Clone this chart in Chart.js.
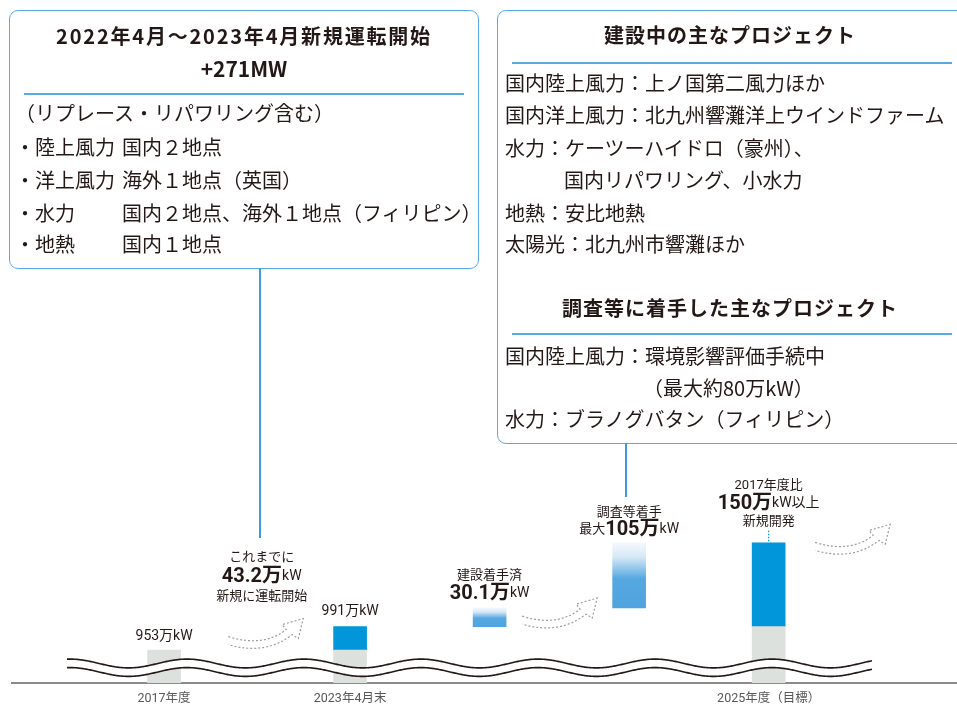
<!DOCTYPE html>
<html lang="ja">
<head>
<meta charset="utf-8">
<script src="https://cdn.jsdelivr.net/npm/chart.js@4"></script>
<style>
  html, body { margin: 0; padding: 0; background: #fff; }
  body { width: 957px; height: 706px; position: relative; overflow: hidden;
         font-family: 'Noto Sans CJK JP', 'Noto Sans', sans-serif; color: #231815; }
  #chart { position: absolute; left: 0; top: 0; }
  .box { position: absolute; border: 1.5px solid #5aaae2; border-radius: 9px; background: #fff; box-sizing: border-box; }
  .ttl { position: absolute; left: 0; right: 0; text-align: center; font-weight: bold; font-size: 20px; line-height: 32px; }
  .rule { position: absolute; height: 1.5px; background: #5aaae2; }
  .ln { position: absolute; font-size: 20px; line-height: 32px; white-space: nowrap; }
  .lead { position: absolute; width: 2px; background: #3d9be0; }
</style>
</head>
<body>
<canvas id="chart" width="957" height="706"></canvas>

<div class="box" style="left:9px; top:10px; width:470px; height:259px;">
  <div class="ttl" style="top:9px; letter-spacing:1.8px;">2022年4月～2023年4月新規運転開始</div>
  <div class="ttl" style="top:41px; font-size:21px;">+271MW</div>
  <div class="rule" style="left:14px; width:440px; top:82px;"></div>
  <div class="ln" style="left:5px; top:86px;">（リプレース・リパワリング含む）</div>
  <div class="ln" style="left:5px; top:120px;">・陸上風力</div><div class="ln" style="left:112px; top:120px;">国内２地点</div>
  <div class="ln" style="left:5px; top:153px;">・洋上風力</div><div class="ln" style="left:112px; top:153px;">海外１地点（英国）</div>
  <div class="ln" style="left:5px; top:186px;">・水力</div><div class="ln" style="left:112px; top:186px;">国内２地点、海外１地点（フィリピン）</div>
  <div class="ln" style="left:5px; top:217px;">・地熱</div><div class="ln" style="left:112px; top:217px;">国内１地点</div>
</div>
<div class="lead" style="left:259px; top:268px; height:270px;"></div>

<div class="box" style="left:497px; top:10px; width:480px; height:434px;">
  <div class="ttl" style="top:8px; right:14px; letter-spacing:1px;">建設中の主なプロジェクト</div>
  <div class="rule" style="left:14px; width:440px; top:51px;"></div>
  <div class="ln" style="left:7px; top:56px;">国内陸上風力：上ノ国第二風力ほか</div>
  <div class="ln" style="left:7px; top:88px;">国内洋上風力：北九州響灘洋上ウインドファーム</div>
  <div class="ln" style="left:7px; top:121px;">水力：ケーツーハイドロ（豪州）、</div>
  <div class="ln" style="left:66px; top:153px;">国内リパワリング、小水力</div>
  <div class="ln" style="left:7px; top:186px;">地熱：安比地熱</div>
  <div class="ln" style="left:7px; top:217px;">太陽光：北九州市響灘ほか</div>
  <div class="ttl" style="top:281px; right:14px; letter-spacing:1px;">調査等に着手した主なプロジェクト</div>
  <div class="rule" style="left:14px; width:440px; top:322px;"></div>
  <div class="ln" style="left:7px; top:329px;">国内陸上風力：環境影響評価手続中</div>
  <div class="ln" style="left:145px; top:361px;">（最大約80万kW）</div>
  <div class="ln" style="left:7px; top:392px;">水力：ブラノグバタン（フィリピン）</div>
</div>
<div class="lead" style="left:625px; top:443px; height:54px;"></div>

<script>
// timeline slots (position along the time axis) and their tick labels
const slotLabels = ['2017年度', '2023年4月末', '', '', '2025年度（目標）'];
const slotX = [0, 4, 7, 10, 13];

// 万kW; axis is broken below the wavy mark
const axisFloor = 900;
const axisCeil = 1292;
const existingTop = [953, 953, null, null, 991];
const newRange = [null, [953, 991], null, null, [991, 1126.1]];
const pipelineRange = [null, null, [991, 1021.1], [1021.1, 1126.1], null];

const FONT = "Roboto, 'Noto Sans CJK JP', sans-serif";
const INK = '#231815';

function toPoints(ranges) {
    const pts = [];
    ranges.forEach(function (r, i) {
        if (r) pts.push({ x: slotX[i], y: r });
    });
    return pts;
}

const grayData = toPoints(existingTop.map(function (v) { return v == null ? null : [axisFloor, v]; }));

function pipelineFill(ctx) {
    const chart = ctx.chart;
    if (!chart.chartArea || !ctx.raw) return '#4fa4df';
    const y = chart.scales.y;
    const top = y.getPixelForValue(ctx.raw.y[1]);
    const bot = y.getPixelForValue(ctx.raw.y[0]);
    const g = chart.ctx.createLinearGradient(0, top, 0, bot);
    g.addColorStop(0, '#f4f8fd');
    g.addColorStop(0.22, '#d6e8f7');
    g.addColorStop(0.55, '#56a8e0');
    g.addColorStop(1, '#4fa3df');
    return g;
}

function richText(ctx, parts, cx, y) {
    let w = 0;
    parts.forEach(function (p) { ctx.font = p.f; w += ctx.measureText(p.t).width; });
    let x = cx - w / 2;
    ctx.textAlign = 'left';
    ctx.textBaseline = 'middle';
    parts.forEach(function (p) {
        ctx.font = p.f;
        ctx.fillText(p.t, x, y);
        x += ctx.measureText(p.t).width;
    });
}

function drawArrow(ctx, x, y) {
    ctx.save();
    ctx.translate(x, y);
    ctx.beginPath();
    ctx.moveTo(0, -3);
    ctx.quadraticCurveTo(35, 8, 58, -10);
    ctx.lineTo(54, -15);
    ctx.lineTo(75, -21);
    ctx.lineTo(70, -1);
    ctx.lineTo(64, -5);
    ctx.quadraticCurveTo(37, 16, 0, 5);
    ctx.setLineDash([2, 2]);
    ctx.strokeStyle = '#9d9d9d';
    ctx.lineWidth = 1.2;
    ctx.stroke();
    ctx.restore();
}

function wavePath(ctx, x0, x1, yc, amp, period, phase) {
    for (let x = x0; x <= x1; x += 1) {
        const yy = yc + amp * Math.cos((x - phase) / period * Math.PI * 2);
        if (x === x0) ctx.moveTo(x, yy); else ctx.lineTo(x, yy);
    }
}

const decorations = {
    id: 'decorations',
    afterDatasetsDraw: function (chart) {
        const ctx = chart.ctx;
        const xs = chart.scales.x;
        const ys = chart.scales.y;
        const bottom = chart.chartArea.bottom;
        const px = function (v) { return xs.getPixelForValue(v); };
        const py = function (v) { return ys.getPixelForValue(v); };

        // break mark
        const x0 = 67, x1 = 872, period = 117, phase = 128.5, amp = 4.4;
        const yUp = bottom - 19.5, yLo = bottom - 11;
        ctx.save();
        ctx.beginPath();
        wavePath(ctx, x0, x1, yUp, amp, period, phase);
        for (let x = x1; x >= x0; x -= 1) {
            ctx.lineTo(x, yLo + amp * Math.cos((x - phase) / period * Math.PI * 2));
        }
        ctx.closePath();
        ctx.fillStyle = '#fff';
        ctx.fill();
        ctx.strokeStyle = '#231815';
        ctx.lineWidth = 1.6;
        ctx.beginPath(); wavePath(ctx, x0, x1, yUp, amp, period, phase); ctx.stroke();
        ctx.beginPath(); wavePath(ctx, x0, x1, yLo, amp, period, phase); ctx.stroke();
        ctx.restore();

        // arrows between stages
        drawArrow(ctx, px(1.38), py(970));
        drawArrow(ctx, px(7.7), py(1003));
        drawArrow(ctx, px(14.0), py(1122));

        // value annotations
        ctx.save();
        ctx.fillStyle = INK;
        const val = '14px ' + FONT;
        const small = '13px ' + FONT;
        const big = 'bold 20px ' + FONT;
        richText(ctx, [{ t: '953万kW', f: val }], px(slotX[0]), py(existingTop[0]) - 14);
        richText(ctx, [{ t: '991万kW', f: val }], px(slotX[1]), py(newRange[1][1]) - 15);

        const t1 = py(newRange[1][1]);
        const cx1 = px(2.1);
        richText(ctx, [{ t: 'これまでに', f: small }], cx1, t1 - 69);
        richText(ctx, [{ t: '43.2万', f: big }, { t: 'kW', f: val }], cx1, t1 - 50);
        richText(ctx, [{ t: '新規に運転開始', f: small }], cx1, t1 - 30);

        const t2 = py(pipelineRange[2][1]);
        richText(ctx, [{ t: '建設着手済', f: small }], px(slotX[2]), t2 - 32);
        richText(ctx, [{ t: '30.1万', f: big }, { t: 'kW', f: val }], px(slotX[2]), t2 - 14);

        const t3 = py(pipelineRange[3][1]);
        richText(ctx, [{ t: '調査等着手', f: small }], px(slotX[3]), t3 - 30);
        richText(ctx, [{ t: '最大', f: small }, { t: '105万', f: big }, { t: 'kW', f: val }], px(slotX[3]), t3 - 13);

        const t4 = py(newRange[4][1]);
        richText(ctx, [{ t: '2017年度比', f: small }], px(slotX[4]), t4 - 57);
        richText(ctx, [{ t: '150万', f: big }, { t: 'kW以上', f: val }], px(slotX[4]), t4 - 39);
        richText(ctx, [{ t: '新規開発', f: small }], px(slotX[4]), t4 - 21);

        ctx.beginPath();
        ctx.setLineDash([1.5, 1.5]);
        ctx.strokeStyle = '#0096d9';
        ctx.lineWidth = 1.2;
        ctx.moveTo(px(slotX[4]), t4 - 12);
        ctx.lineTo(px(slotX[4]), t4);
        ctx.stroke();
        ctx.restore();
    }
};

new Chart(document.getElementById('chart').getContext('2d'), {
    type: 'bar',
    data: {
        datasets: [
            { label: '既設', data: grayData, backgroundColor: '#dce1de', grouped: false, barThickness: 33 },
            { label: '新規運転開始', data: toPoints(newRange), backgroundColor: '#0096d9', grouped: false, barThickness: 33 },
            { label: '建設・調査', data: toPoints(pipelineRange), backgroundColor: pipelineFill, grouped: false, barThickness: 33 }
        ]
    },
    options: {
        responsive: false,
        animation: false,
        layout: { padding: { top: 440, left: 12, right: 0, bottom: -8 } },
        plugins: {
            legend: { display: false },
            tooltip: { enabled: false }
        },
        scales: {
            x: {
                type: 'linear',
                offset: false,
                min: -3.27,
                max: 17.05,
                grid: { display: false, drawTicks: false },
                border: { display: true, color: '#8c8a8a', width: 2 },
                afterBuildTicks: function (scale) {
                    scale.ticks = slotX.filter(function (v, i) { return slotLabels[i]; })
                        .map(function (v) { return { value: v }; });
                },
                ticks: {
                    autoSkip: false,
                    maxRotation: 0,
                    padding: 8,
                    color: '#595757',
                    font: { size: 12.5, family: FONT },
                    callback: function (value) {
                        const i = slotX.indexOf(value);
                        return i >= 0 ? slotLabels[i] : '';
                    }
                }
            },
            y: {
                display: false,
                min: axisFloor,
                max: axisCeil
            }
        }
    },
    plugins: [decorations]
});
</script>
</body>
</html>
